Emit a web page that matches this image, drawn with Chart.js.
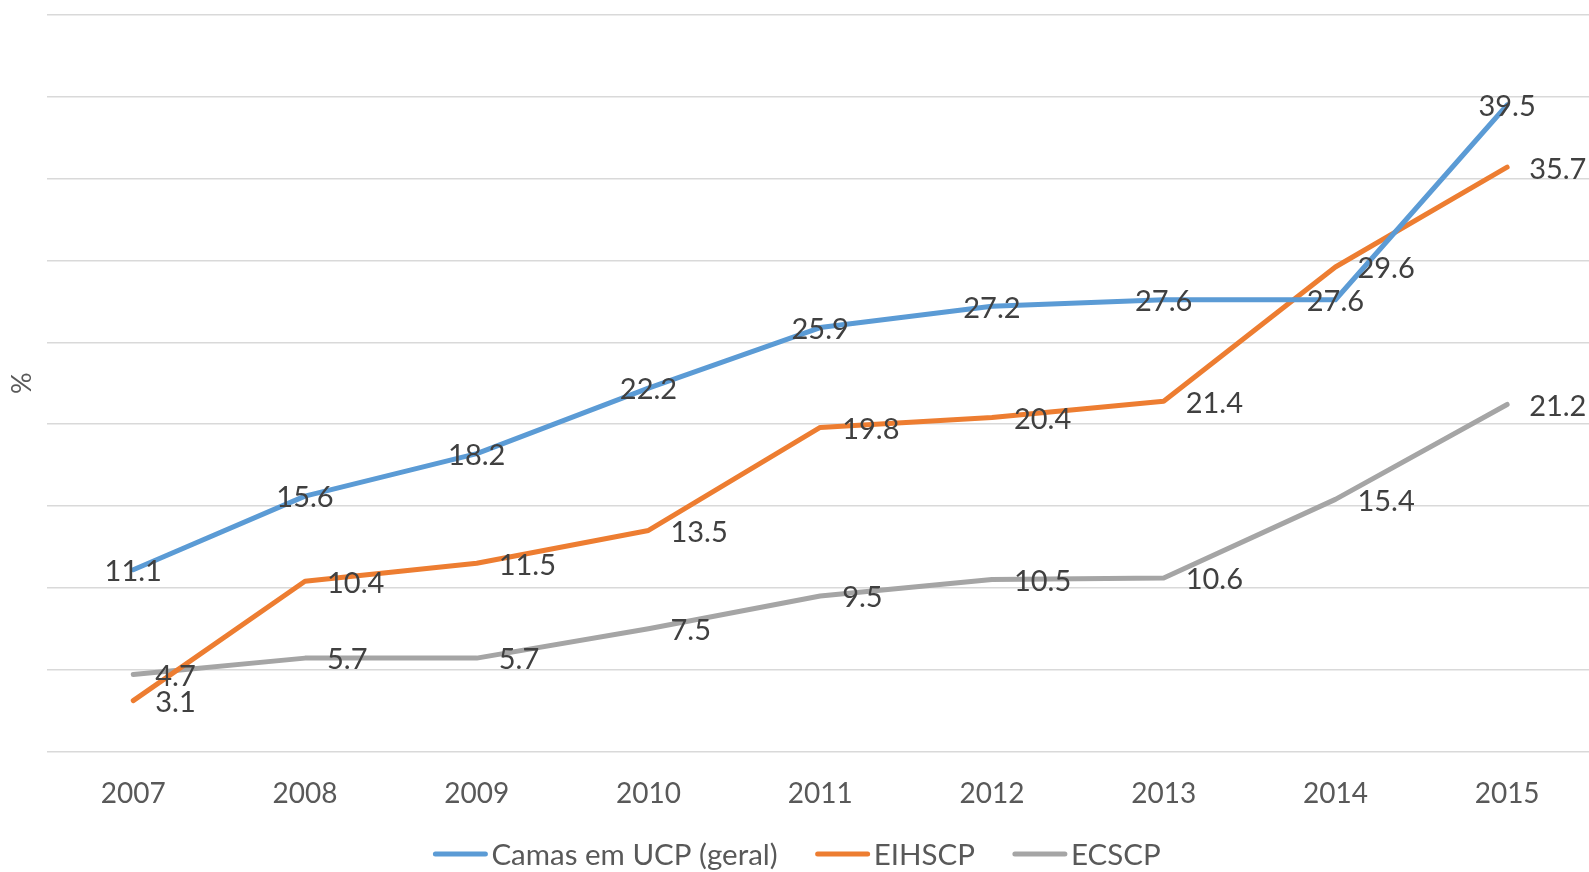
<!DOCTYPE html>
<html>
<head>
<meta charset="utf-8">
<script src="https://cdn.jsdelivr.net/npm/chart.js@4"></script>
<style>
    html, body { margin: 0; padding: 0; background: #fff; overflow: hidden; }
    #wrap { width: 1594px; height: 872px; }
</style>
</head>
<body>
<div id="wrap"><canvas id="lineChart"></canvas></div>
<script>
// ===============================
// Data
// ===============================
const years = ['2007', '2008', '2009', '2010', '2011', '2012', '2013', '2014', '2015'];
const camasUcp = [11.1, 15.6, 18.2, 22.2, 25.9, 27.2, 27.6, 27.6, 39.5];
const eihscp = [3.1, 10.4, 11.5, 13.5, 19.8, 20.4, 21.4, 29.6, 35.7];
const ecscp = [4.7, 5.7, 5.7, 7.5, 9.5, 10.5, 10.6, 15.4, 21.2];
const seriesNames = ['Camas em UCP (geral)', 'EIHSCP', 'ECSCP'];

const FONT = 'Lato, "Open Sans", sans-serif';

// ===============================
// Value labels (Excel style)
// ===============================
const valueLabels = {
    id: 'valueLabels',
    afterDatasetsDraw(chart) {
        const ctx = chart.ctx;
        ctx.save();
        ctx.font = '29px ' + FONT;
        ctx.fillStyle = '#404040';
        ctx.textBaseline = 'middle';
        chart.data.datasets.forEach((ds, i) => {
            const meta = chart.getDatasetMeta(i);
            meta.data.forEach((pt, j) => {
                const txt = ds.data[j].toFixed(1);
                if (ds.labelPos === 'center') {
                    ctx.textAlign = 'center';
                    ctx.fillText(txt, pt.x, pt.y + 2);
                } else {
                    ctx.textAlign = 'left';
                    ctx.fillText(txt, pt.x + 22, pt.y + 2);
                }
            });
        });
        ctx.restore();
    }
};

// ===============================
// Legend (line + text, tight gap)
// ===============================
const bottomLegend = {
    id: 'bottomLegend',
    afterDraw(chart) {
        const ctx = chart.ctx;
        ctx.save();
        ctx.font = '29.5px ' + FONT;
        const lineW = 54, gap = 4, itemGap = 38;
        const items = chart.data.datasets.map(ds => ({
            text: ds.label,
            color: ds.borderColor,
            w: lineW + gap + ctx.measureText(ds.label).width
        }));
        const total = items.reduce((s, it) => s + it.w, 0) + itemGap * (items.length - 1);
        let x = 797 - total / 2;
        const y = 854;
        items.forEach(it => {
            ctx.strokeStyle = it.color;
            ctx.lineWidth = 5;
            ctx.lineCap = 'round';
            ctx.beginPath();
            ctx.moveTo(x + 2, y);
            ctx.lineTo(x + lineW - 2, y);
            ctx.stroke();
            ctx.fillStyle = '#595959';
            ctx.textAlign = 'left';
            ctx.textBaseline = 'middle';
            ctx.fillText(it.text, x + lineW + gap, y + 1);
            x += it.w + itemGap;
        });
        ctx.restore();
    }
};

// ===============================
// Chart
// ===============================
function initChart() {
    const canvas = document.getElementById('lineChart');
    new Chart(canvas.getContext('2d'), {
        type: 'line',
        data: {
            labels: years,
            datasets: [
                { label: seriesNames[0], data: camasUcp, borderColor: '#5b9bd5', labelPos: 'center' },
                { label: seriesNames[1], data: eihscp, borderColor: '#ed7d31', labelPos: 'right' },
                { label: seriesNames[2], data: ecscp, borderColor: '#a5a5a5', labelPos: 'right' }
            ].map(ds => Object.assign(ds, {
                borderWidth: 5,
                pointRadius: 0,
                pointHoverRadius: 0,
                fill: false,
                tension: 0,
                borderCapStyle: 'round',
                borderJoinStyle: 'round'
            }))
        },
        plugins: [valueLabels, bottomLegend],
        options: {
            responsive: true,
            maintainAspectRatio: false,
            animation: false,
            layout: { padding: { left: 6, right: 1, top: 15, bottom: 35 } },
            plugins: {
                legend: { display: false },
                tooltip: { enabled: false }
            },
            scales: {
                x: {
                    offset: true,
                    grid: { display: false, drawTicks: false },
                    border: { display: false },
                    ticks: {
                        padding: 26,
                        color: '#595959',
                        font: { family: FONT, size: 28 }
                    }
                },
                y: {
                    min: 0,
                    max: 45,
                    ticks: { display: false, stepSize: 5 },
                    grid: { color: '#d9d9d9', lineWidth: 1.5, drawTicks: false },
                    border: { display: false },
                    title: {
                        display: true,
                        text: '%',
                        color: '#595959',
                        font: { family: FONT, size: 27 },
                        padding: { top: 0, bottom: 9 }
                    }
                }
            }
        }
    });
}

document.addEventListener('DOMContentLoaded', () => {
    initChart();
});
</script>
</body>
</html>
